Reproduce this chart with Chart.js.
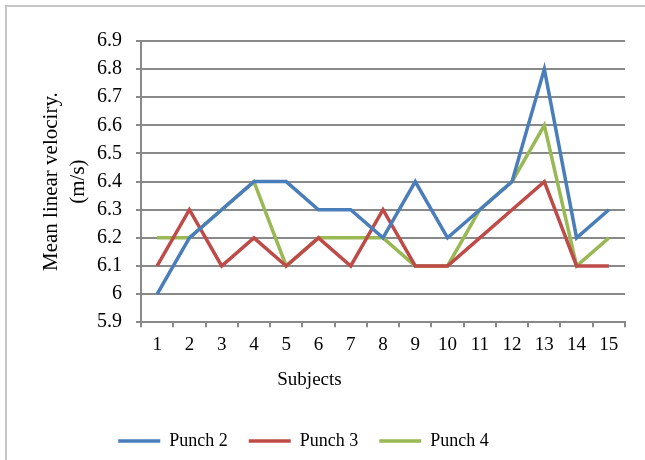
<!DOCTYPE html>
<html>
<head>
<meta charset="utf-8">
<script src="https://cdn.jsdelivr.net/npm/chart.js@4.4.1/dist/chart.umd.min.js"></script>
<style>
  body { margin: 0; background: #fff; }
  #wrap { position: relative; width: 645px; height: 460px; overflow: hidden; }
  #frame { position: absolute; left: 5px; top: 5px; width: 700px; height: 500px;
           border-top: 2px solid #c6c6c6; border-left: 2px solid #c6c6c6; }
  #box { position: absolute; left: 0; top: 0; width: 645px; height: 460px; }
</style>
</head>
<body>
<div id="wrap">
  <div id="frame"></div>
  <div id="box"><canvas id="chart"></canvas></div>
</div>
<script>
// ---------------- data ----------------
const subjects = ['1','2','3','4','5','6','7','8','9','10','11','12','13','14','15'];
const punch2 = [6.0, 6.2, 6.3, 6.4, 6.4, 6.3, 6.3, 6.2, 6.4, 6.2, 6.3, 6.4, 6.8, 6.2, 6.3];
const punch3 = [6.1, 6.3, 6.1, 6.2, 6.1, 6.2, 6.1, 6.3, 6.1, 6.1, 6.2, 6.3, 6.4, 6.1, 6.1];
const punch4 = [6.2, 6.2, 6.3, 6.4, 6.1, 6.2, 6.2, 6.2, 6.1, 6.1, 6.3, 6.4, 6.6, 6.1, 6.2];
const seriesNames = ['Punch 2', 'Punch 3', 'Punch 4'];
const yMin = 5.9, yMax = 6.9, yStep = 0.1;
const yTitle = ['Mean linear velociry.', '(m/s)'];
const xTitle = 'Subjects';

const serif = "'Liberation Serif', 'Times New Roman', serif";
const gridGray = '#898989';
const colors = ['#4a7ebb', '#be4b48', '#98b954'];

// nudge legend / bottom title left, like the original
const shiftBottom = {
  id: 'shiftBottom',
  afterLayout(chart) {
    if (chart.legend) { chart.legend.left -= 9; chart.legend.right -= 9; }
    if (chart.titleBlock) { chart.titleBlock.left -= 3; chart.titleBlock.right -= 3; }
  }
};

function makeSet(label, data, color) {
  return {
    label: label,
    data: data,
    borderColor: color,
    backgroundColor: color,
    borderWidth: 3.5,
    pointRadius: 0,
    tension: 0
  };
}

new Chart(document.getElementById('chart'), {
  type: 'line',
  data: {
    labels: subjects,
    datasets: [
      makeSet(seriesNames[0], punch2, colors[0]),
      makeSet(seriesNames[1], punch3, colors[1]),
      makeSet(seriesNames[2], punch4, colors[2])
    ]
  },
  options: {
    responsive: true,
    maintainAspectRatio: false,
    animation: false,
    layout: { padding: { top: 41, right: 20, bottom: 0, left: 0 } },
    scales: {
      x: {
        type: 'category',
        offset: true,
        grid: { offset: true, drawOnChartArea: false, tickLength: 5, color: gridGray, lineWidth: 2 },
        border: { color: gridGray, width: 2 },
        ticks: { color: '#000', padding: 6, maxRotation: 0, autoSkip: false, font: { family: serif, size: 19 } },
        afterFit(scale) { scale.height = 33; }
      },
      y: {
        min: yMin,
        max: yMax,
        grid: { color: gridGray, lineWidth: 2, tickLength: 5 },
        border: { color: gridGray, width: 2 },
        ticks: {
          stepSize: yStep,
          color: '#000',
          padding: 14,
          font: { family: serif, size: 20 },
          callback: (v) => String(+v.toFixed(1))
        },
        title: {
          display: true,
          text: yTitle,
          color: '#000',
          padding: { top: 38, bottom: 0 },
          font: { family: serif, size: 21, lineHeight: 1.3 }
        },
        afterFit(scale) { scale.width = 141; }
      }
    },
    plugins: {
      title: {
        display: true,
        text: xTitle,
        position: 'bottom',
        weight: 500,
        color: '#000',
        padding: { top: 13, bottom: 20 },
        font: { family: serif, size: 19, weight: 'normal', lineHeight: 1.2 }
      },
      legend: {
        position: 'bottom',
        labels: {
          color: '#000',
          usePointStyle: true,
          pointStyle: 'line',
          pointStyleWidth: 42,
          padding: 21,
          font: { family: serif, size: 18 }
        }
      },
      tooltip: { enabled: false }
    }
  },
  plugins: [shiftBottom]
});
</script>
</body>
</html>
